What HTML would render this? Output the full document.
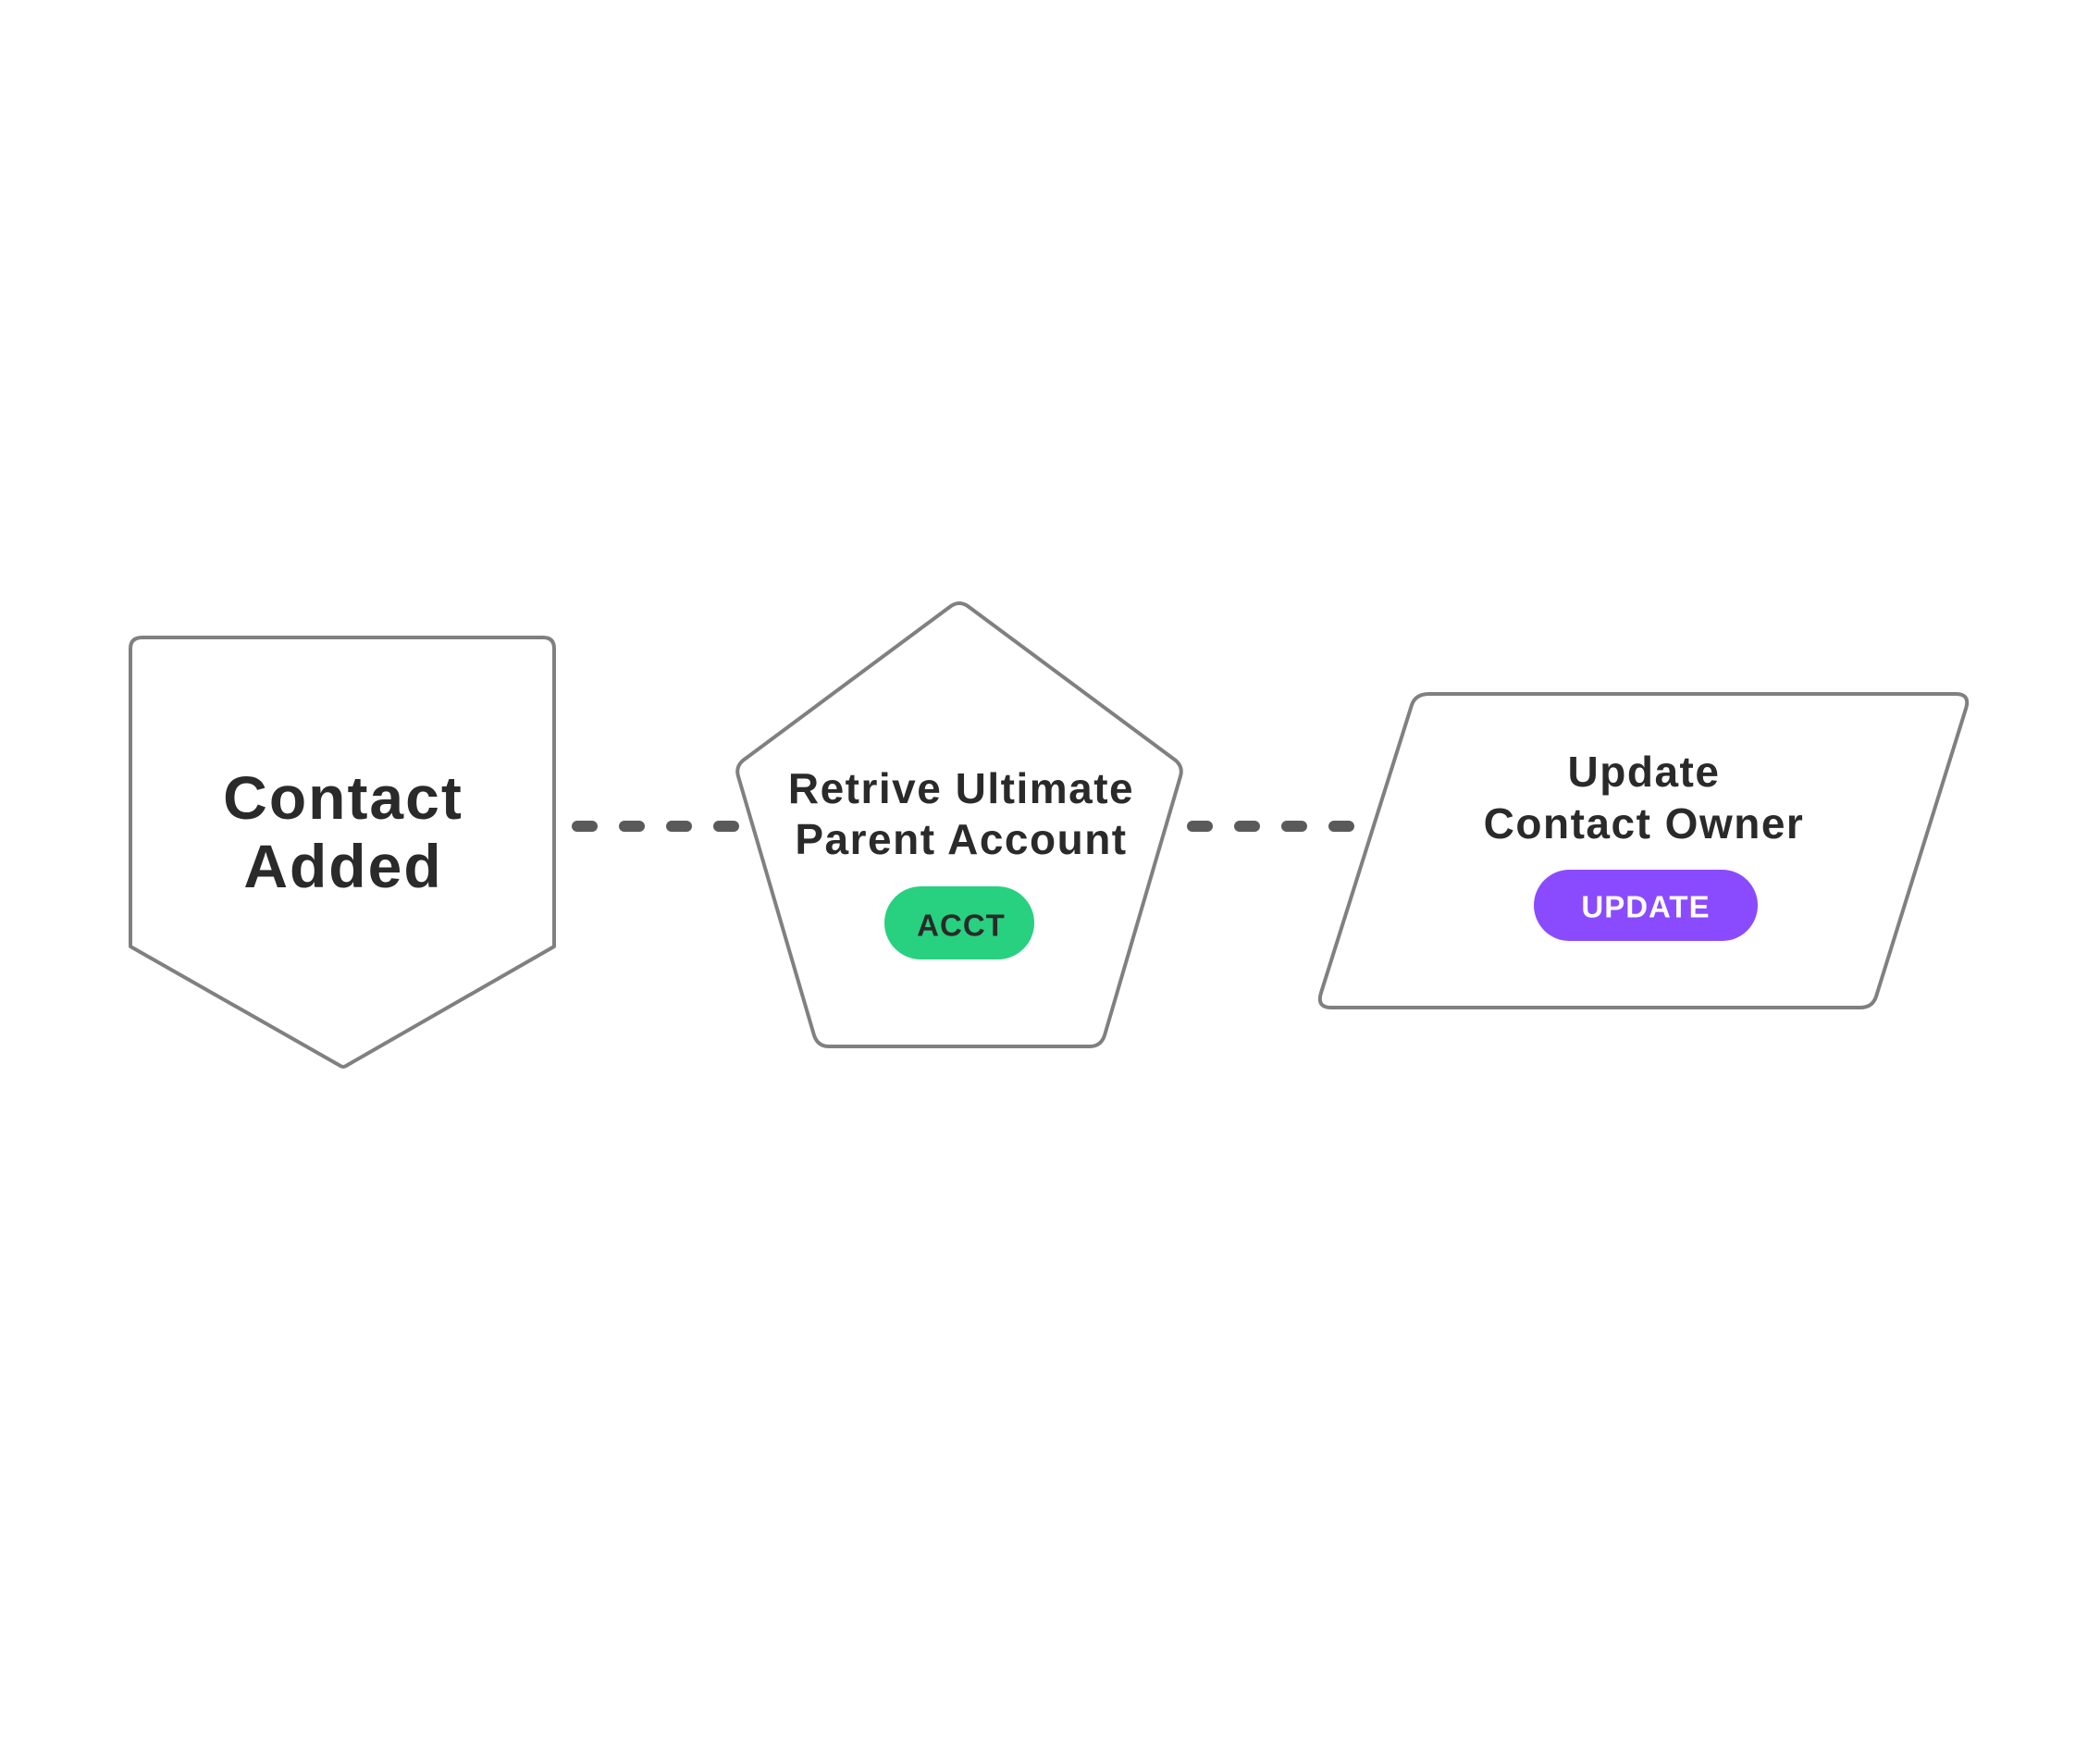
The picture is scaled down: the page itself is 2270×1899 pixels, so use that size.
<!DOCTYPE html>
<html><head><meta charset="utf-8"><style>
html,body{margin:0;padding:0;background:#fff;width:2270px;height:1899px;overflow:hidden}
svg{display:block}
text{font-family:"Liberation Sans",sans-serif;fill:#2a2a2a;text-anchor:middle;dominant-baseline:central}
</style></head><body>
<svg width="2270" height="1899" viewBox="0 0 2270 1899">
<g fill="#fff" stroke="#808080" stroke-width="4" stroke-linejoin="round">
<path d="M154 689 H587 Q599 689 599 701 V1023 L374 1152 Q371 1154 368 1152 L141 1023 V701 Q141 689 154 689 Z"/>
<path d="M1028 655 Q1037 649 1046 655 L1271 822 Q1279 829 1276 839 L1194 1119 Q1190 1131 1178 1131 H896 Q884 1131 880 1119 L798 839 Q795 829 803 822 Z"/>
<path d="M1545 750 H2114 Q2130 750 2125 766 L2028 1077 Q2024 1089 2011 1089 H1439 Q1423 1089 1428 1073 L1526 762 Q1530 750 1545 750 Z"/>
</g>
<g stroke="#5a5a5a" stroke-width="12" stroke-linecap="round">
<line x1="624" y1="893" x2="640" y2="893"/><line x1="675" y1="893" x2="691" y2="893"/><line x1="726" y1="893" x2="742" y2="893"/><line x1="777" y1="893" x2="793" y2="893"/>
<line x1="1289" y1="893" x2="1305" y2="893"/><line x1="1340" y1="893" x2="1356" y2="893"/><line x1="1391" y1="893" x2="1407" y2="893"/><line x1="1442" y1="893" x2="1458" y2="893"/>
</g>
<text x="371" y="862" font-size="66" font-weight="bold" letter-spacing="2">Contact</text>
<text x="371" y="936" font-size="66" font-weight="bold" letter-spacing="2">Added</text>
<text x="1039" y="852" font-size="46" font-weight="bold" letter-spacing="1.5">Retrive Ultimate</text>
<text x="1039" y="907" font-size="46" font-weight="bold" letter-spacing="1.5">Parent Account</text>
<rect x="956" y="958" width="162" height="79" rx="39.5" fill="#27d17f"/>
<text x="1039" y="1000" font-size="33" font-weight="bold" letter-spacing="1">ACCT</text>
<text x="1777" y="834" font-size="46" font-weight="bold" letter-spacing="1.5">Update</text>
<text x="1777" y="890" font-size="46" font-weight="bold" letter-spacing="1.5">Contact Owner</text>
<rect x="1658" y="940" width="242" height="77" rx="38.5" fill="#8a4bff"/>
<text x="1779" y="980" font-size="33" font-weight="bold" letter-spacing="1" style="fill:#fff">UPDATE</text>
</svg>
</body></html>
